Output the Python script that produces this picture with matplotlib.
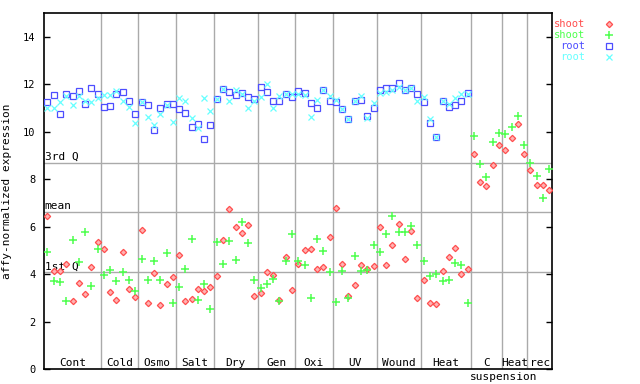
import matplotlib
matplotlib.use('Agg')
import matplotlib.pyplot as plt
from matplotlib.lines import Line2D
import numpy as np

plt.rcParams['font.family'] = ['DejaVu Sans Mono']

groups = ['Cont', 'Cold', 'Osmo', 'Salt', 'Dry', 'Gen', 'Oxi', 'UV', 'Wound',
          'Heat', 'C', 'Heat', 'rec']
group_sizes = [9, 6, 6, 6, 7, 6, 6, 7, 7, 8, 5, 4, 4]

quartiles = [8.69, 6.62, 4.08]
quartile_labels = ['3rd Q', 'mean', '1st Q']

shoot1 = [6.45, 4.13, 4.13, 4.42, 2.86, 3.62, 3.16, 4.30, 5.35,
          5.06, 3.24, 2.90, 4.93, 3.37, 3.03,
          5.86, 2.78, 4.04, 2.69, 3.58, 3.88,
          4.81, 2.86, 2.95, 3.37, 3.28, 3.45,
          3.92, 5.44, 6.75, 5.99, 5.74, 6.07, 3.07,
          3.20, 4.09, 3.96, 2.90, 4.72, 3.33,
          4.42, 5.02, 5.06, 4.21, 4.30, 5.57,
          6.79, 4.42, 3.07, 3.54, 4.38, 4.21, 4.34,
          5.99, 4.38, 5.23, 6.12, 4.64, 5.82, 2.99,
          3.75, 2.78, 2.73, 4.13, 4.72, 5.10, 4.00, 4.21,
          9.07, 7.89, 7.72, 8.61, 9.45,
          9.24, 9.75, 10.34, 9.07,
          8.40, 7.76, 7.76, 7.55]

shoot2 = [4.95, 3.71, 3.66, 2.86, 5.44, 4.51, 5.78, 3.50, 5.06,
          3.96, 4.17, 3.71, 4.09, 3.75, 3.28,
          4.64, 3.75, 4.55, 3.75, 4.89, 2.78,
          3.45, 4.21, 5.48, 2.90, 3.58, 2.52,
          5.35, 4.42, 5.40, 4.59, 6.20, 5.31, 3.75,
          3.41, 3.58, 3.79, 2.86, 4.55, 5.69,
          4.55, 4.38, 2.99, 5.48, 4.97, 4.09,
          2.82, 4.13, 2.99, 4.76, 4.13, 4.17, 5.23,
          4.93, 5.69, 6.45, 5.78, 5.78, 6.03, 5.23,
          4.55, 3.92, 4.00, 3.71, 3.75, 4.47, 4.38, 2.78,
          9.83, 8.65, 8.10, 9.58, 9.96,
          9.92, 10.22, 10.68, 9.45,
          8.69, 8.14, 7.21, 8.44]

root1 = [11.27, 11.57, 10.76, 11.61, 11.53, 11.74, 11.19, 11.86, 11.61,
         11.06, 11.10, 11.61, 11.69, 11.31, 10.76,
         11.27, 11.15, 10.09, 11.02, 11.19, 11.19,
         10.98, 10.81, 10.22, 10.34, 9.71, 10.30,
         11.40, 11.82, 11.69, 11.57, 11.65, 11.48, 11.40,
         11.91, 11.69, 11.31, 11.31, 11.61, 11.48,
         11.74, 11.65, 11.23, 11.02, 11.78, 11.31,
         11.27, 10.98, 10.55, 11.31, 11.36, 10.68, 11.02,
         11.78, 11.86, 11.86, 12.08, 11.78, 11.86, 11.61,
         11.27, 10.38, 9.79, 11.31, 11.06, 11.15, 11.31, 11.65]

root2 = [11.02, 11.02, 11.27, 11.53, 11.15, 11.53, 11.31, 11.27, 11.44,
         11.57, 11.57, 11.74, 11.31, 11.06, 10.38,
         11.27, 10.64, 10.30, 10.76, 11.15, 10.43,
         11.44, 11.31, 10.60, 10.17, 11.44, 10.89,
         11.40, 11.82, 11.31, 11.78, 11.60, 11.02, 11.31,
         11.48, 12.03, 11.02, 11.53, 11.61, 11.61,
         11.61, 11.57, 10.64, 11.36, 11.78, 11.53,
         11.36, 10.98, 10.55, 11.31, 11.53, 10.60, 11.23,
         11.65, 11.69, 11.78, 11.91, 11.78, 11.86, 11.31,
         11.48, 10.55, 9.79, 11.31, 11.19, 11.44, 11.61, 11.61]

RED = '#ff4d4d'
GREEN = '#4dff4d'
BLUE = '#4d4dff'
CYAN = '#66ffff'
GRID = '#aaaaaa'

fig = plt.figure(figsize=(6.4, 3.84), dpi=100)
ax = fig.add_axes([44.3 / 640, 15 / 384, 508 / 640, 355.7 / 384])

n_total = sum(group_sizes)
ax.set_xlim(0.5, n_total + 0.5)
ax.set_ylim(0, 15)

# group separators and labels
bounds = np.cumsum([0] + group_sizes) + 0.5
for b in bounds[1:-1]:
    ax.axvline(b, color=GRID, lw=1.0, zorder=1)
for i, g in enumerate(groups):
    cx = (bounds[i] + bounds[i + 1]) / 2
    ax.text(cx, 0.008, g, transform=ax.get_xaxis_transform(), ha='center',
            va='baseline', fontsize=8, color='black')
ax.text(bounds[11] + 0.2, -0.031, 'suspension',
        transform=ax.get_xaxis_transform(), ha='center', va='baseline',
        fontsize=8, color='black', clip_on=False)

# quartile lines
for q, lab in zip(quartiles, quartile_labels):
    ax.axhline(q, color=GRID, lw=1.0, zorder=1)
    ax.text(0.001, q + 0.03, lab, transform=ax.get_yaxis_transform(),
            ha='left', va='bottom', fontsize=8, color='black')

xs = np.arange(1, len(shoot1) + 1)
xr = np.arange(1, len(root1) + 1)
ax.plot(xs, shoot1, linestyle='none', marker='D', ms=3.2, mfc='#ffb3b3',
        mec=RED, mew=0.9, zorder=3)
ax.plot(xs, shoot2, linestyle='none', marker='+', ms=5.5, mec=GREEN,
        mew=1.1, zorder=3)
ax.plot(xr, root1, linestyle='none', marker='s', ms=3.8, mfc='none',
        mec=BLUE, mew=0.9, zorder=3)
ax.plot(xr, root2, linestyle='none', marker='x', ms=4.0, mec=CYAN,
        mew=0.9, zorder=4)

ax.set_xticks([])
ax.set_yticks(range(0, 15, 2))
ax.tick_params(axis='y', direction='in', length=4.3, width=1.0,
               labelsize=7.5, pad=6.5, right=True, labelright=False)
for s in ax.spines.values():
    s.set_linewidth(1.2)
    s.set_color('black')

ax.set_ylabel('affy-normalized expression', fontsize=8)
ax.yaxis.set_label_coords(-0.064, 0.5)

# legend (drawn outside the plot on the right)
leg = [('shoot', RED, dict(marker='D', ms=3.2, mfc='#ffb3b3', mec=RED, mew=0.9)),
       ('shoot', GREEN, dict(marker='+', ms=5.5, mec=GREEN, mew=1.1)),
       ('root', BLUE, dict(marker='s', ms=3.8, mfc='none', mec=BLUE, mew=0.9)),
       ('root', CYAN, dict(marker='x', ms=4.0, mec=CYAN, mew=0.9))]
ys = [24, 35, 45.7, 56.7]
for (lab, col, mk), y in zip(leg, ys):
    fig.text(585 / 640, 1 - y / 384, lab, ha='right', va='center',
             color=col, fontsize=7.5)
    fig.add_artist(Line2D([609 / 640], [1 - y / 384], linestyle='none',
                          transform=fig.transFigure, **mk))

fig.savefig('out.png', dpi=100)
